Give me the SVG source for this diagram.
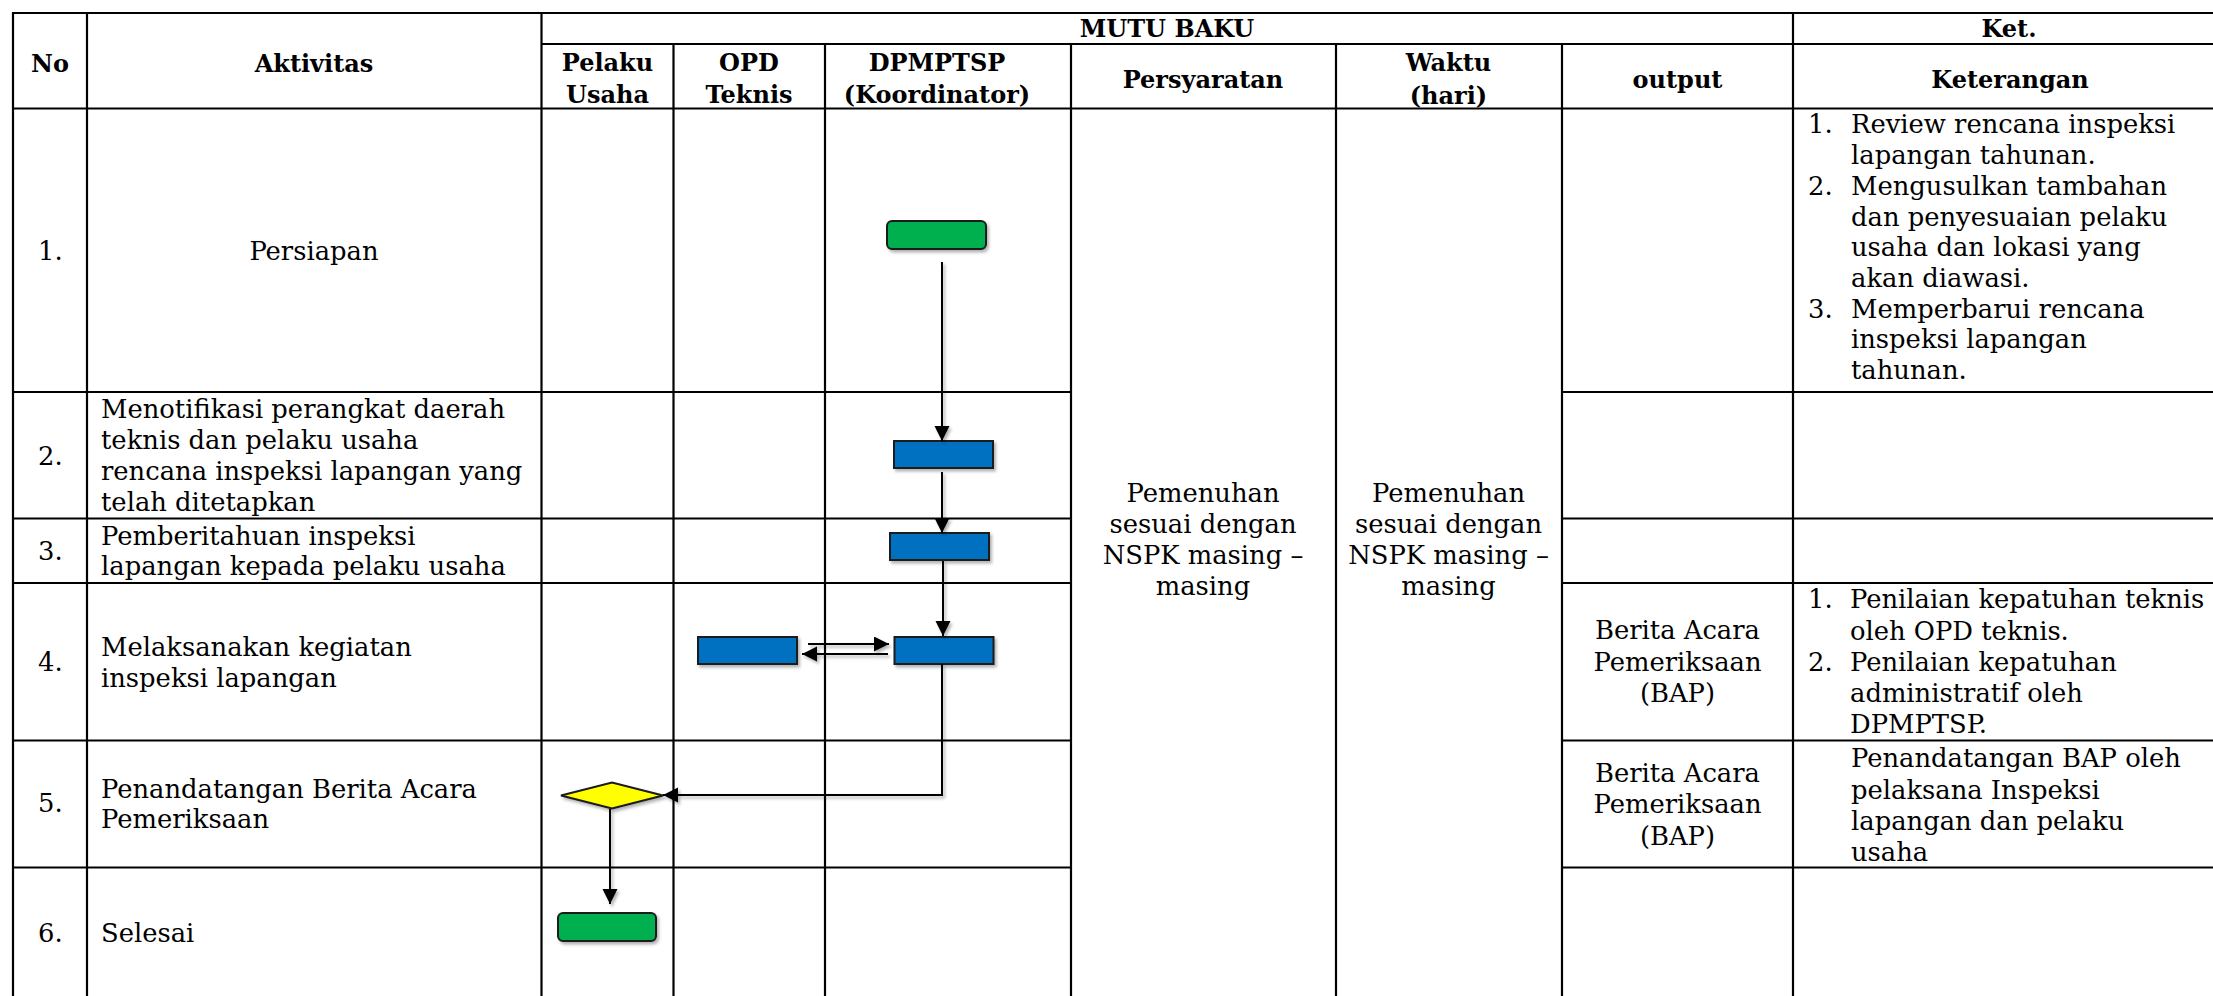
<svg xmlns="http://www.w3.org/2000/svg" width="2213" height="996" viewBox="0 0 2213 996">
<style>
.grid line{stroke:#000;stroke-width:2.2}
.h{font-family:"DejaVu Serif","Liberation Serif",serif;font-weight:bold;font-size:24px;fill:#000;text-anchor:middle}
.t{font-family:"DejaVu Serif","Liberation Serif",serif;font-size:25.8px;fill:#000}
.c{text-anchor:middle}
.start{fill:#00B050;stroke:#1a1a1a;stroke-width:2}
.proc{fill:#0070C0;stroke:#1a1a1a;stroke-width:2}
.dec{fill:#FFFF00;stroke:#1a1a1a;stroke-width:2}
.conn path{fill:none;stroke:#000;stroke-width:2}
</style>
<defs>
<marker id="ah" markerUnits="userSpaceOnUse" markerWidth="16" markerHeight="16" refX="15" refY="7.5" orient="auto">
<path d="M0,0 L15,7.5 L0,15 z" fill="#000"/>
</marker>
<filter id="sh" x="-20%" y="-20%" width="150%" height="160%">
<feDropShadow dx="2" dy="2.5" stdDeviation="1.8" flood-color="#000" flood-opacity="0.3"/>
</filter>
</defs>
<rect width="2213" height="996" fill="#fff"/>
<g class="grid">
<line x1="12" y1="13" x2="2213" y2="13"/>
<line x1="541.5" y1="44" x2="2213" y2="44"/>
<line x1="12" y1="108.5" x2="2213" y2="108.5"/>
<line x1="12" y1="392" x2="1071" y2="392"/><line x1="1562" y1="392" x2="2213" y2="392"/>
<line x1="12" y1="518.5" x2="1071" y2="518.5"/><line x1="1562" y1="518.5" x2="2213" y2="518.5"/>
<line x1="12" y1="583" x2="1071" y2="583"/><line x1="1562" y1="583" x2="2213" y2="583"/>
<line x1="12" y1="740.5" x2="1071" y2="740.5"/><line x1="1562" y1="740.5" x2="2213" y2="740.5"/>
<line x1="12" y1="867.5" x2="1071" y2="867.5"/><line x1="1562" y1="867.5" x2="2213" y2="867.5"/>
<line x1="13" y1="12" x2="13" y2="996"/>
<line x1="87" y1="12" x2="87" y2="996"/>
<line x1="541.5" y1="12" x2="541.5" y2="996"/>
<line x1="673.5" y1="44" x2="673.5" y2="996"/>
<line x1="825" y1="44" x2="825" y2="996"/>
<line x1="1071" y1="44" x2="1071" y2="996"/>
<line x1="1336" y1="44" x2="1336" y2="996"/>
<line x1="1562" y1="44" x2="1562" y2="996"/>
<line x1="1793" y1="12" x2="1793" y2="996"/>
</g>
<g id="header">
<text class="h" x="50" y="72">No</text>
<text class="h" x="314" y="72">Aktivitas</text>
<text class="h" x="1167" y="37">MUTU BAKU</text>
<text class="h" x="2009" y="37">Ket.</text>
<text class="h" x="607.5" y="71">Pelaku</text><text class="h" x="607.5" y="103">Usaha</text>
<text class="h" x="749" y="71">OPD</text><text class="h" x="749" y="103">Teknis</text>
<text class="h" x="937" y="71">DPMPTSP</text><text class="h" x="937" y="103">(Koordinator)</text>
<text class="h" x="1203" y="88">Persyaratan</text>
<text class="h" x="1448.5" y="71">Waktu</text><text class="h" x="1448.5" y="104">(hari)</text>
<text class="h" x="1677.5" y="88">output</text>
<text class="h" x="2010" y="88">Keterangan</text>
</g>
<g id="rows">
<text class="t" x="38" y="260">1.</text>
<text class="t c" x="314" y="260">Persiapan</text>
<text class="t" x="38" y="465">2.</text>
<text class="t" x="101" y="418">Menotifikasi perangkat daerah</text>
<text class="t" x="101" y="449">teknis dan pelaku usaha</text>
<text class="t" x="101" y="480">rencana inspeksi lapangan yang</text>
<text class="t" x="101" y="511">telah ditetapkan</text>
<text class="t" x="38" y="560">3.</text>
<text class="t" x="101" y="545">Pemberitahuan inspeksi</text>
<text class="t" x="101" y="575">lapangan kepada pelaku usaha</text>
<text class="t" x="38" y="671">4.</text>
<text class="t" x="101" y="656">Melaksanakan kegiatan</text>
<text class="t" x="101" y="687">inspeksi lapangan</text>
<text class="t" x="38" y="812">5.</text>
<text class="t" x="101" y="798">Penandatangan Berita Acara</text>
<text class="t" x="101" y="828">Pemeriksaan</text>
<text class="t" x="38" y="942">6.</text>
<text class="t" x="101" y="942">Selesai</text>
</g>
<g id="persyaratan">
<text class="t c" x="1203" y="502">Pemenuhan</text>
<text class="t c" x="1203" y="533">sesuai dengan</text>
<text class="t c" x="1203" y="564">NSPK masing –</text>
<text class="t c" x="1203" y="595">masing</text>
</g>
<g id="waktu">
<text class="t c" x="1448.5" y="502">Pemenuhan</text>
<text class="t c" x="1448.5" y="533">sesuai dengan</text>
<text class="t c" x="1448.5" y="564">NSPK masing –</text>
<text class="t c" x="1448.5" y="595">masing</text>
</g>
<g id="output">
<text class="t c" x="1677.5" y="639">Berita Acara</text>
<text class="t c" x="1677.5" y="671">Pemeriksaan</text>
<text class="t c" x="1677.5" y="702">(BAP)</text>
<text class="t c" x="1677.5" y="782">Berita Acara</text>
<text class="t c" x="1677.5" y="813">Pemeriksaan</text>
<text class="t c" x="1677.5" y="845">(BAP)</text>
</g>
<g id="keterangan">
<text class="t" x="1808" y="133">1.</text>
<text class="t" x="1851" y="133">Review rencana inspeksi</text>
<text class="t" x="1851" y="164">lapangan tahunan.</text>
<text class="t" x="1808" y="195">2.</text>
<text class="t" x="1851" y="195">Mengusulkan tambahan</text>
<text class="t" x="1851" y="225.5">dan penyesuaian pelaku</text>
<text class="t" x="1851" y="256">usaha dan lokasi yang</text>
<text class="t" x="1851" y="287">akan diawasi.</text>
<text class="t" x="1808" y="317.5">3.</text>
<text class="t" x="1851" y="317.5">Memperbarui rencana</text>
<text class="t" x="1851" y="348">inspeksi lapangan</text>
<text class="t" x="1851" y="379">tahunan.</text>
<text class="t" x="1808" y="608">1.</text>
<text class="t" x="1850" y="608">Penilaian kepatuhan teknis</text>
<text class="t" x="1850" y="639.5">oleh OPD teknis.</text>
<text class="t" x="1808" y="671">2.</text>
<text class="t" x="1850" y="671">Penilaian kepatuhan</text>
<text class="t" x="1850" y="702">administratif oleh</text>
<text class="t" x="1850" y="733">DPMPTSP.</text>
<text class="t" x="1851" y="767">Penandatangan BAP oleh</text>
<text class="t" x="1851" y="798.5">pelaksana Inspeksi</text>
<text class="t" x="1851" y="830">lapangan dan pelaku</text>
<text class="t" x="1851" y="861">usaha</text>
</g>
<g id="n1" filter="url(#sh)"><rect class="start" x="887" y="221" width="99" height="28" rx="5"/></g>
<g id="n2" filter="url(#sh)"><rect class="proc" x="894" y="441" width="99" height="27"/></g>
<g id="n3" filter="url(#sh)"><rect class="proc" x="890" y="533" width="99" height="27"/></g>
<g id="n4" filter="url(#sh)"><rect class="proc" x="894.5" y="637" width="99" height="27"/></g>
<g id="n4b" filter="url(#sh)"><rect class="proc" x="698" y="637" width="99" height="27"/></g>
<g id="n5" filter="url(#sh)"><polygon class="dec" points="561,795.5 612,782.5 663,795.5 612,808.5"/></g>
<g id="n6" filter="url(#sh)"><rect class="start" x="558" y="913" width="98" height="28" rx="5"/></g>
<g class="conn" filter="url(#sh)">
<path d="M942,262 V441" marker-end="url(#ah)"/>
<path d="M942,472 V533" marker-end="url(#ah)"/>
<path d="M943,561 V636" marker-end="url(#ah)"/>
<path d="M808,644 H889" marker-end="url(#ah)"/>
<path d="M888,654 H802" marker-end="url(#ah)"/>
<path d="M942,664 V795 H663" marker-end="url(#ah)"/>
<path d="M610,809 V904" marker-end="url(#ah)"/>
</g>
</svg>
